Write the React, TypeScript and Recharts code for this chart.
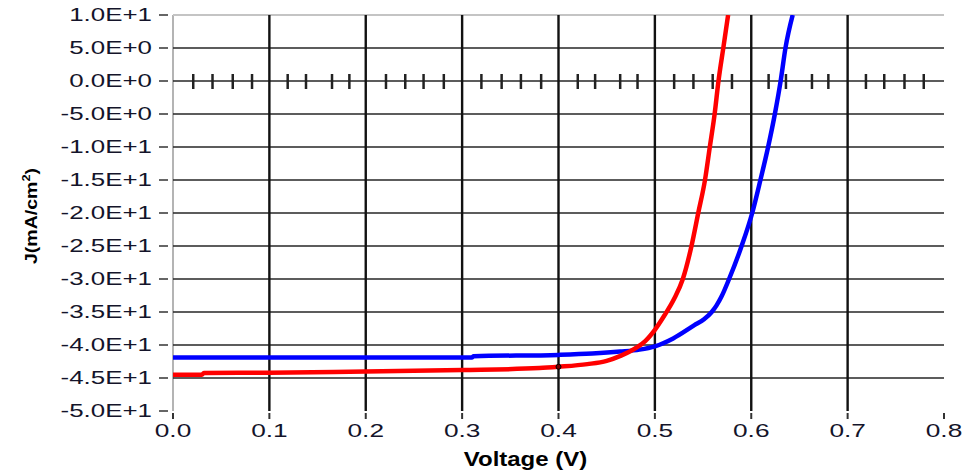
import {
  ComposedChart,
  Line,
  Scatter,
  XAxis,
  YAxis,
  ReferenceLine,
  ReferenceDot,
  Label,
} from 'recharts'

// J-V curves (V in volts, J in mA/cm2)
const redV = [0, 0.03, 0.032, 0.1, 0.2, 0.3, 0.38, 0.4, 0.43, 0.45, 0.465, 0.474, 0.482, 0.49, 0.5, 0.51, 0.52, 0.529, 0.538, 0.545, 0.552, 0.557, 0.562, 0.566, 0.571, 0.576]
const redJ = [-44.5, -44.5, -44.25, -44.2, -44.0, -43.8, -43.5, -43.3, -42.9, -42.4, -41.6, -41.0, -40.3, -39.4, -37.7, -35.5, -33, -30, -25, -20, -15, -10, -5, 0, 5, 10]

const blueV = [0, 0.31, 0.312, 0.4, 0.435, 0.464, 0.484, 0.5, 0.519, 0.541, 0.551, 0.559, 0.564, 0.569, 0.577, 0.59, 0.601, 0.6095, 0.6175, 0.6245, 0.6305, 0.6355, 0.643]
const blueJ = [-41.9, -41.9, -41.7, -41.5, -41.3, -41.0, -40.7, -40.2, -39, -37, -36.1, -35, -34, -32.7, -30, -25, -20, -15, -10, -5, 0, 5, 10]

const xTicks = [0, 0.1, 0.2, 0.3, 0.4, 0.5, 0.6, 0.7, 0.8]
const yTicks = [-50, -45, -40, -35, -30, -25, -20, -15, -10, -5, 0, 5, 10]
const hGrid = [-45, -40, -35, -30, -25, -20, -15, -10, -5, 0, 5]
const vGrid = [0.1, 0.2, 0.3, 0.4, 0.5, 0.6, 0.7]

// little tick marks on the J = 0 line
const minorTicks = [
  0.021, 0.041, 0.062, 0.082,
  0.119, 0.138, 0.165, 0.183,
  0.221, 0.241, 0.26, 0.281,
  0.32, 0.341, 0.361, 0.382,
  0.42, 0.438, 0.464, 0.482,
  0.52, 0.54, 0.56, 0.58,
  0.618, 0.636, 0.663, 0.68,
  0.719, 0.738, 0.759, 0.779,
]

const redData = redV.map((v, i) => ({ v, j: redJ[i] }))
const blueData = blueV.map((v, i) => ({ v, j: blueJ[i] }))
const minorData = minorTicks.map((v) => ({ v, j: 0 }))

const FONT = '"Liberation Sans", Arial, sans-serif'
const TEXT = '#14142a'

const fmtJ = (n: number) => n.toExponential(1).toUpperCase()

function YTick({ x, y, payload }: any) {
  return (
    <g>
      <line x1={x - 14} x2={x - 5} y1={y} y2={y} stroke="#333" strokeWidth={1.5} />
      <g transform={`translate(${x - 21},${y}) scale(1.48,1)`}>
        <text textAnchor="end" dy="0.36em" fontSize={17.5} fontFamily={FONT} fill={TEXT}>
          {fmtJ(payload.value)}
        </text>
      </g>
    </g>
  )
}

function XTick({ x, y, payload }: any) {
  return (
    <g>
      <line x1={x} x2={x} y1={y + 2} y2={y + 8} stroke="#333" strokeWidth={2} />
      <g transform={`translate(${x},${y + 26}) scale(1.5,1)`}>
        <text textAnchor="middle" fontSize={17.5} fontFamily={FONT} fill={TEXT}>
          {payload.value.toFixed(1)}
        </text>
      </g>
    </g>
  )
}

const MinorTick = ({ cx, cy }: any) => (
  <line x1={cx} x2={cx} y1={cy - 7} y2={cy + 8} stroke="#222" strokeWidth={2.5} />
)

export default function App() {
  return (
    <div style={{ position: 'absolute', left: 0, top: 0, background: '#fff' }}>
      <ComposedChart width={963} height={472} margin={{ top: 15, right: 19, left: 0, bottom: 0 }}>
        <XAxis
          dataKey="v"
          type="number"
          domain={[0, 0.8]}
          ticks={xTicks}
          height={61}
          axisLine={false}
          tickLine={false}
          tickSize={0}
          tickMargin={0}
          tick={<XTick />}
          allowDataOverflow
        >
          <Label
            content={() => (
              <g transform="translate(525.5,466) scale(1.23,1)">
                <text textAnchor="middle" fontSize={19.5} fontWeight="bold" fontFamily={FONT} fill="#000">
                  Voltage (V)
                </text>
              </g>
            )}
          />
        </XAxis>
        <YAxis
          dataKey="j"
          type="number"
          domain={[-50, 10]}
          ticks={yTicks}
          width={173}
          axisLine={false}
          tickLine={false}
          tickSize={0}
          tickMargin={0}
          tick={<YTick />}
          allowDataOverflow
        >
          <Label
            content={() => (
              <g transform="translate(37,216) rotate(-90) scale(1.15,1)">
                <text textAnchor="middle" fontSize={17} fontWeight="bold" fontFamily={FONT} fill="#000">
                  J(mA/cm<tspan dy={-7} fontSize={11}>2</tspan><tspan dy={7}>)</tspan>
                </text>
              </g>
            )}
          />
        </YAxis>

        <ReferenceLine x={0} stroke="#b4b4b4" strokeWidth={2} />
        <ReferenceLine y={10} stroke="#c4c4c4" strokeWidth={2} />
        {hGrid.map((h) => (
          <ReferenceLine key={'h' + h} y={h} stroke="#262626" strokeWidth={1.6} />
        ))}
        {vGrid.map((v) => (
          <ReferenceLine key={'v' + v} x={v} stroke="#111" strokeWidth={2.4} />
        ))}

        <Scatter data={minorData} dataKey="j" shape={<MinorTick />} isAnimationActive={false} />

        <Line
          data={blueData}
          dataKey="j"
          type="monotone"
          stroke="#0000ff"
          strokeWidth={4.5}
          dot={false}
          isAnimationActive={false}
        />
        <Line
          data={redData}
          dataKey="j"
          type="monotone"
          stroke="#ff0000"
          strokeWidth={4.5}
          dot={false}
          isAnimationActive={false}
        />
        <ReferenceDot x={0.4} y={-43.3} r={2.5} fill="#7a0000" stroke="#000" strokeWidth={1} />
      </ComposedChart>
    </div>
  )
}
